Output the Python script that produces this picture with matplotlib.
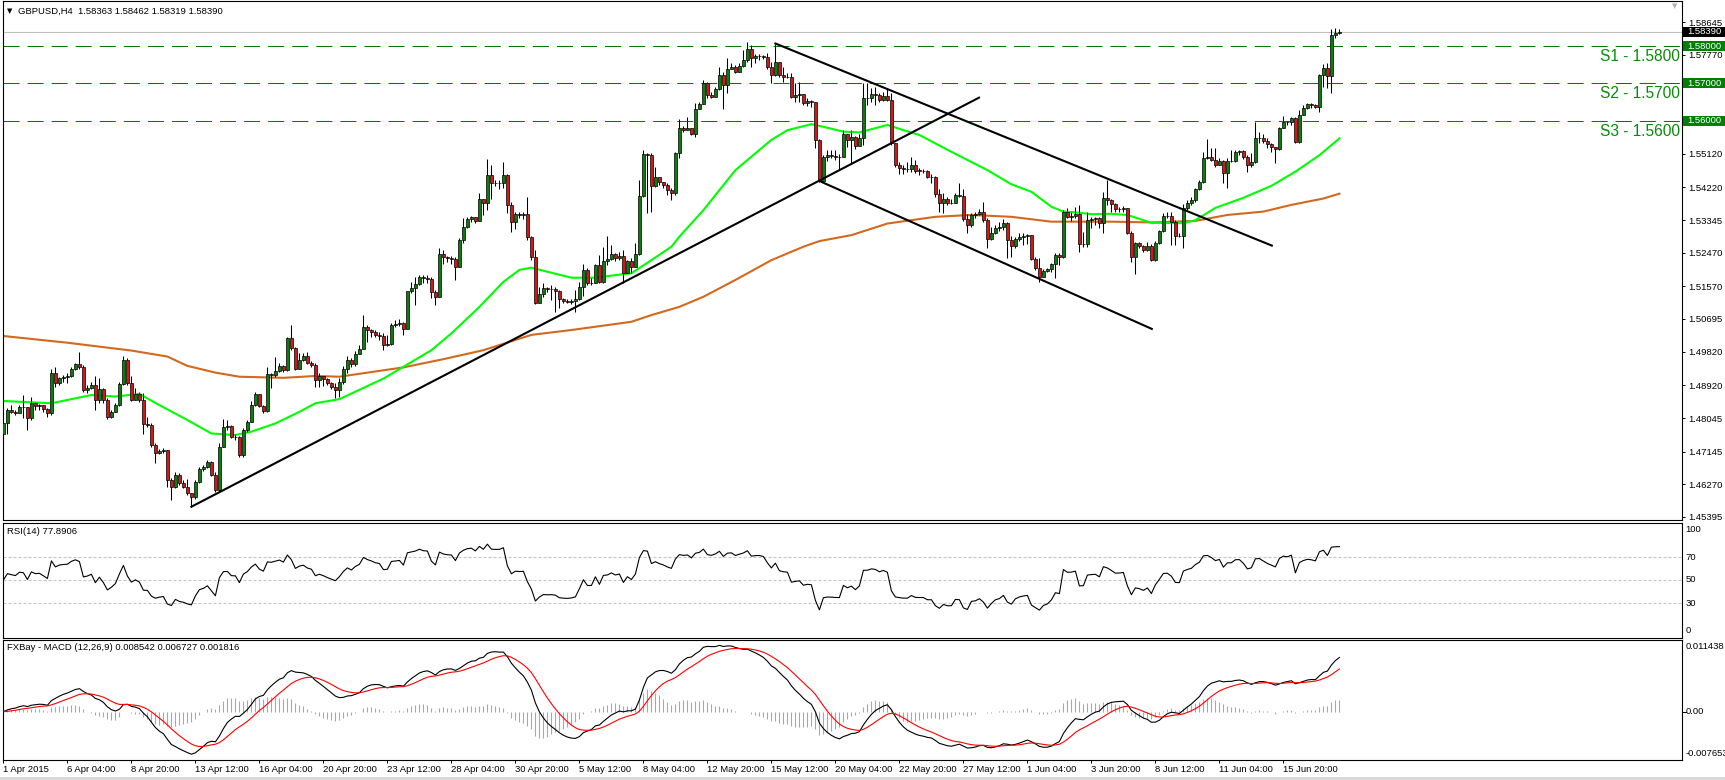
import numpy as np
import pandas as pd
import matplotlib
matplotlib.use('Agg')
import matplotlib.pyplot as plt
import matplotlib.transforms as mtransforms
from matplotlib.patches import Rectangle

W, H = 1725, 780

# GBPUSD H4, one value per bar
closes = [
    1.4790, 1.4826, 1.4821, 1.4817, 1.4835, 1.4833, 1.4804, 1.4844, 1.4836, 1.4838,
    1.4828, 1.4817, 1.4924, 1.4897, 1.4911, 1.4915, 1.4917, 1.4937, 1.4948, 1.4942,
    1.4879, 1.4884, 1.4893, 1.4853, 1.4881, 1.4853, 1.4808, 1.4821, 1.4839, 1.4895,
    1.4960, 1.4897, 1.4853, 1.4870, 1.4853, 1.4788, 1.4786, 1.4732, 1.4710, 1.4716,
    1.4719, 1.4639, 1.4621, 1.4652, 1.4630, 1.4621, 1.4603, 1.4592, 1.4634, 1.4667,
    1.4674, 1.4688, 1.4652, 1.4612, 1.4728, 1.4781, 1.4783, 1.4754, 1.4753, 1.4705,
    1.4772, 1.4795, 1.4839, 1.4869, 1.4837, 1.4824, 1.4921, 1.4919, 1.4931, 1.4944,
    1.4933, 1.5018, 1.4991, 1.4937, 1.4961, 1.4970, 1.4953, 1.4946, 1.4906, 1.4917,
    1.4908, 1.4897, 1.4888, 1.4879, 1.4902, 1.4935, 1.4960, 1.4950, 1.4975, 1.4990,
    1.5049, 1.5040, 1.5034, 1.5027, 1.5024, 1.5000, 1.5002, 1.5053, 1.5056, 1.5060,
    1.5044, 1.5144, 1.5153, 1.5163, 1.5183, 1.5178, 1.5177, 1.5143, 1.5129, 1.5243,
    1.5235, 1.5232, 1.5231, 1.5210, 1.5281, 1.5315, 1.5336, 1.5342, 1.5332, 1.5390,
    1.5379, 1.5455, 1.5434, 1.5433, 1.5434, 1.5454, 1.5375, 1.5330, 1.5350, 1.5348,
    1.5350, 1.5290, 1.5235, 1.5111, 1.5136, 1.5152, 1.5149, 1.5150, 1.5145, 1.5122,
    1.5118, 1.5116, 1.5118, 1.5122, 1.5156, 1.5201, 1.5167, 1.5167, 1.5214, 1.5169,
    1.5226, 1.5229, 1.5243, 1.5232, 1.5238, 1.5192, 1.5226, 1.5210, 1.5244, 1.5399,
    1.5511, 1.5508, 1.5426, 1.5450, 1.5437, 1.5428, 1.5415, 1.5406, 1.5513, 1.5580,
    1.5575, 1.5582, 1.5565, 1.5631, 1.5645, 1.5700, 1.5669, 1.5665, 1.5684, 1.5723,
    1.5696, 1.5740, 1.5745, 1.5732, 1.5747, 1.5763, 1.5791, 1.5767, 1.5773, 1.5774,
    1.5770, 1.5745, 1.5723, 1.5758, 1.5723, 1.5718, 1.5716, 1.5665, 1.5669, 1.5672,
    1.5649, 1.5653, 1.5651, 1.5549, 1.5440, 1.5504, 1.5508, 1.5507, 1.5504, 1.5503,
    1.5566, 1.5549, 1.5558, 1.5533, 1.5553, 1.5660, 1.5661, 1.5672, 1.5669, 1.5657,
    1.5666, 1.5657, 1.5540, 1.5482, 1.5475, 1.5470, 1.5470, 1.5482, 1.5467, 1.5466,
    1.5466, 1.5450, 1.5450, 1.5403, 1.5379, 1.5392, 1.5381, 1.5381, 1.5401, 1.5399,
    1.5336, 1.5321, 1.5348, 1.5350, 1.5357, 1.5334, 1.5283, 1.5299, 1.5312, 1.5316,
    1.5327, 1.5281, 1.5265, 1.5283, 1.5290, 1.5293, 1.5295, 1.5230, 1.5207, 1.5183,
    1.5198, 1.5203, 1.5216, 1.5241, 1.5236, 1.5357, 1.5343, 1.5344, 1.5350, 1.5269,
    1.5270, 1.5334, 1.5337, 1.5339, 1.5326, 1.5394, 1.5388, 1.5376, 1.5363, 1.5364,
    1.5367, 1.5299, 1.5236, 1.5272, 1.5266, 1.5254, 1.5266, 1.5227, 1.5272, 1.5305,
    1.5345, 1.5346, 1.5330, 1.5293, 1.5292, 1.5367, 1.5379, 1.5388, 1.5417, 1.5437,
    1.5500, 1.5504, 1.5495, 1.5482, 1.5492, 1.5459, 1.5492, 1.5493, 1.5517, 1.5518,
    1.5504, 1.5482, 1.5489, 1.5553, 1.5555, 1.5546, 1.5537, 1.5531, 1.5525, 1.5580,
    1.5598, 1.5596, 1.5608, 1.5542, 1.5616, 1.5633, 1.5644, 1.5642, 1.5638, 1.5723,
    1.5742, 1.5721, 1.5830, 1.58363, 1.58390,
]
highs = [
    1.4795, 1.4830, 1.4839, 1.4826, 1.4839, 1.4866, 1.4835, 1.4861, 1.4845, 1.4842,
    1.4839, 1.4830, 1.4937, 1.4942, 1.4915, 1.4920, 1.4924, 1.4942, 1.4953, 1.4980,
    1.4946, 1.4893, 1.4902, 1.4917, 1.4911, 1.4884, 1.4857, 1.4826, 1.4844, 1.4902,
    1.4970, 1.4964, 1.4917, 1.4884, 1.4875, 1.4872, 1.4808, 1.4790, 1.4737, 1.4721,
    1.4723, 1.4714, 1.4643, 1.4661, 1.4656, 1.4639, 1.4640, 1.4605, 1.4639, 1.4674,
    1.4679, 1.4692, 1.4690, 1.4661, 1.4737, 1.4801, 1.4799, 1.4786, 1.4763, 1.4756,
    1.4777, 1.4799, 1.4851, 1.4875, 1.4870, 1.4839, 1.4940, 1.4924, 1.4969, 1.4951,
    1.4946, 1.5022, 1.5053, 1.4994, 1.4978, 1.4978, 1.4982, 1.4958, 1.4951, 1.4924,
    1.4915, 1.4911, 1.4902, 1.4897, 1.4911, 1.4945, 1.4970, 1.4965, 1.4985, 1.5000,
    1.5080, 1.5053, 1.5044, 1.5040, 1.5036, 1.5031, 1.5027, 1.5058, 1.5067, 1.5069,
    1.5062, 1.5145, 1.5169, 1.5183, 1.5187, 1.5187, 1.5187, 1.5183, 1.5147, 1.5259,
    1.5254, 1.5238, 1.5238, 1.5236, 1.5285, 1.5339, 1.5343, 1.5345, 1.5343, 1.5406,
    1.5392, 1.5497, 1.5482, 1.5442, 1.5442, 1.5489, 1.5458, 1.5384, 1.5357, 1.5357,
    1.5356, 1.5395, 1.5292, 1.5254, 1.5156, 1.5165, 1.5156, 1.5160, 1.5156, 1.5147,
    1.5125, 1.5122, 1.5122, 1.5147, 1.5169, 1.5218, 1.5205, 1.5178, 1.5218, 1.5241,
    1.5263, 1.5292, 1.5268, 1.5245, 1.5250, 1.5254, 1.5227, 1.5232, 1.5272, 1.5442,
    1.5522, 1.5515, 1.5513, 1.5477, 1.5450, 1.5437, 1.5433, 1.5419, 1.5517, 1.5604,
    1.5586, 1.5611, 1.5580, 1.5647, 1.5651, 1.5709, 1.5705, 1.5678, 1.5691, 1.5745,
    1.5732, 1.5767, 1.5754, 1.5749, 1.5754, 1.5790, 1.5812, 1.5803, 1.5779, 1.5779,
    1.5776, 1.5781, 1.5758, 1.5806, 1.5758, 1.5743, 1.5729, 1.5727, 1.5700, 1.5705,
    1.5669, 1.5660, 1.5656, 1.5651, 1.5550, 1.5508, 1.5522, 1.5522, 1.5522, 1.5511,
    1.5575, 1.5566, 1.5575, 1.5559, 1.5566, 1.5700, 1.5700, 1.5687, 1.5691, 1.5674,
    1.5678, 1.5687, 1.5674, 1.5540, 1.5491, 1.5482, 1.5491, 1.5504, 1.5495, 1.5473,
    1.5470, 1.5468, 1.5458, 1.5452, 1.5417, 1.5406, 1.5397, 1.5392, 1.5406, 1.5434,
    1.5417, 1.5350, 1.5354, 1.5357, 1.5363, 1.5384, 1.5339, 1.5315, 1.5321, 1.5330,
    1.5336, 1.5330, 1.5292, 1.5290, 1.5300, 1.5299, 1.5298, 1.5294, 1.5236, 1.5234,
    1.5203, 1.5207, 1.5219, 1.5245, 1.5245, 1.5361, 1.5366, 1.5355, 1.5370, 1.5375,
    1.5303, 1.5355, 1.5343, 1.5343, 1.5343, 1.5410, 1.5441, 1.5392, 1.5379, 1.5370,
    1.5373, 1.5367, 1.5305, 1.5276, 1.5276, 1.5267, 1.5276, 1.5269, 1.5278, 1.5308,
    1.5352, 1.5355, 1.5355, 1.5334, 1.5299, 1.5376, 1.5388, 1.5397, 1.5421, 1.5442,
    1.5517, 1.5551, 1.5526, 1.5528, 1.5500, 1.5495, 1.5500, 1.5522, 1.5522, 1.5522,
    1.5522, 1.5508, 1.5513, 1.5598, 1.5571, 1.5566, 1.5553, 1.5540, 1.5531, 1.5584,
    1.5614, 1.5599, 1.5611, 1.5611, 1.5629, 1.5642, 1.5647, 1.5649, 1.5644, 1.5725,
    1.5751, 1.5754, 1.5846, 1.5848, 1.58462,
]
lows = [
    1.4741, 1.4763, 1.4817, 1.4812, 1.4817, 1.4804, 1.4772, 1.4799, 1.4826, 1.4826,
    1.4821, 1.4808, 1.4812, 1.4888, 1.4893, 1.4902, 1.4897, 1.4915, 1.4933, 1.4937,
    1.4875, 1.4872, 1.4881, 1.4826, 1.4845, 1.4844, 1.4801, 1.4804, 1.4821, 1.4837,
    1.4893, 1.4893, 1.4851, 1.4853, 1.4848, 1.4763, 1.4781, 1.4728, 1.4683, 1.4707,
    1.4710, 1.4621, 1.4585, 1.4616, 1.4625, 1.4616, 1.4598, 1.4567, 1.4589, 1.4630,
    1.4663, 1.4672, 1.4649, 1.4607, 1.4607, 1.4726, 1.4772, 1.4750, 1.4746, 1.4701,
    1.4699, 1.4768, 1.4795, 1.4837, 1.4833, 1.4819, 1.4821, 1.4884, 1.4915, 1.4928,
    1.4928, 1.4931, 1.4986, 1.4933, 1.4935, 1.4958, 1.4949, 1.4940, 1.4888, 1.4888,
    1.4890, 1.4893, 1.4881, 1.4857, 1.4862, 1.4895, 1.4925, 1.4940, 1.4945, 1.4975,
    1.4988, 1.5009, 1.5022, 1.5020, 1.5013, 1.4986, 1.4997, 1.5000, 1.5049, 1.5051,
    1.5027, 1.5044, 1.5140, 1.5107, 1.5161, 1.5165, 1.5165, 1.5127, 1.5107, 1.5129,
    1.5218, 1.5223, 1.5218, 1.5174, 1.5208, 1.5272, 1.5312, 1.5330, 1.5327, 1.5336,
    1.5348, 1.5361, 1.5392, 1.5425, 1.5417, 1.5419, 1.5352, 1.5303, 1.5310, 1.5339,
    1.5336, 1.5281, 1.5227, 1.5110, 1.5111, 1.5129, 1.5143, 1.5120, 1.5089, 1.5098,
    1.5111, 1.5111, 1.5110, 1.5089, 1.5120, 1.5131, 1.5160, 1.5160, 1.5165, 1.5165,
    1.5165, 1.5214, 1.5227, 1.5226, 1.5227, 1.5165, 1.5192, 1.5192, 1.5208, 1.5241,
    1.5397, 1.5352, 1.5357, 1.5424, 1.5428, 1.5419, 1.5401, 1.5388, 1.5401, 1.5500,
    1.5571, 1.5577, 1.5562, 1.5558, 1.5632, 1.5645, 1.5660, 1.5660, 1.5665, 1.5682,
    1.5631, 1.5674, 1.5738, 1.5729, 1.5732, 1.5745, 1.5758, 1.5743, 1.5756, 1.5763,
    1.5765, 1.5738, 1.5700, 1.5720, 1.5718, 1.5705, 1.5714, 1.5660, 1.5651, 1.5651,
    1.5642, 1.5640, 1.5638, 1.5526, 1.5437, 1.5464, 1.5493, 1.5500, 1.5495, 1.5470,
    1.5502, 1.5531, 1.5486, 1.5524, 1.5540, 1.5535, 1.5642, 1.5651, 1.5642, 1.5651,
    1.5654, 1.5653, 1.5535, 1.5477, 1.5458, 1.5458, 1.5464, 1.5464, 1.5461, 1.5455,
    1.5459, 1.5446, 1.5433, 1.5397, 1.5357, 1.5352, 1.5375, 1.5377, 1.5379, 1.5395,
    1.5333, 1.5299, 1.5317, 1.5341, 1.5348, 1.5330, 1.5259, 1.5281, 1.5297, 1.5306,
    1.5309, 1.5232, 1.5236, 1.5259, 1.5279, 1.5268, 1.5269, 1.5227, 1.5201, 1.5169,
    1.5183, 1.5196, 1.5196, 1.5178, 1.5214, 1.5234, 1.5339, 1.5332, 1.5339, 1.5248,
    1.5263, 1.5263, 1.5312, 1.5321, 1.5312, 1.5301, 1.5375, 1.5355, 1.5357, 1.5355,
    1.5355, 1.5296, 1.5223, 1.5189, 1.5259, 1.5250, 1.5251, 1.5225, 1.5225, 1.5269,
    1.5303, 1.5339, 1.5267, 1.5267, 1.5290, 1.5259, 1.5361, 1.5375, 1.5384, 1.5415,
    1.5433, 1.5498, 1.5492, 1.5477, 1.5486, 1.5433, 1.5419, 1.5491, 1.5491, 1.5508,
    1.5498, 1.5464, 1.5477, 1.5486, 1.5540, 1.5540, 1.5526, 1.5517, 1.5486, 1.5522,
    1.5580, 1.5589, 1.5589, 1.5540, 1.5540, 1.5616, 1.5632, 1.5633, 1.5633, 1.5623,
    1.5691, 1.5689, 1.5674, 1.5823, 1.58319,
]
first_open = 1.4763

# moving averages, read at a few bars each
ma_fast_idx = [0, 12, 22, 28, 34, 39, 46, 52, 58, 62, 68, 74, 78, 84, 95, 107, 112, 119, 125,
               129, 132, 136, 142, 148, 153, 157, 162, 167, 169, 175, 183, 192, 196, 202, 205,
               210, 214, 221, 225, 229, 237, 246, 252, 257, 262, 265, 268, 272, 277, 281, 287,
               295, 298, 303, 310, 317, 323, 329, 334]
ma_fast = [1.4850, 1.4844, 1.4866, 1.4862, 1.4869, 1.4839, 1.4799, 1.4763, 1.4759, 1.4768,
           1.4790, 1.4821, 1.4844, 1.4855, 1.4910, 1.4986, 1.5031, 1.5102, 1.5169, 1.5201,
           1.5207, 1.5196, 1.5180, 1.5180, 1.5187, 1.5192, 1.5227, 1.5263, 1.5290, 1.5361,
           1.5468, 1.5549, 1.5575, 1.5591, 1.5584, 1.5571, 1.5569, 1.5589, 1.5575, 1.5562,
           1.5517, 1.5468, 1.5430, 1.5410, 1.5370, 1.5357, 1.5355, 1.5350, 1.5351, 1.5348,
           1.5327, 1.5326, 1.5334, 1.5367, 1.5394, 1.5426, 1.5464, 1.5508, 1.5553]
ma_slow_idx = [0, 16, 32, 41, 46, 53, 59, 70, 78, 84, 100, 110, 120, 132, 142, 157, 162, 169,
               175, 183, 192, 200, 204, 212, 221, 227, 233, 242, 252, 262, 277, 287, 298, 306,
               315, 322, 330, 334]
ma_slow = [1.5024, 1.5006, 1.4985, 1.4969, 1.4944, 1.4926, 1.4915, 1.4912, 1.4917, 1.4915,
           1.4940, 1.4962, 1.4986, 1.5027, 1.5040, 1.5062, 1.5080, 1.5102, 1.5129, 1.5174,
           1.5227, 1.5263, 1.5278, 1.5294, 1.5325, 1.5334, 1.5343, 1.5348, 1.5343, 1.5330,
           1.5330, 1.5328, 1.5332, 1.5348, 1.5357, 1.5375, 1.5392, 1.5405]

# hand drawn trend lines (bar, price)
trend_up_x, trend_up_y = [47, 243.9], [1.4567, 1.5662]
chan_top_x, chan_top_y = [193, 317.1], [1.5807, 1.5266]
chan_bot_x, chan_bot_y = [204, 287.1], [1.5439, 1.5043]

support_levels = [1.5800, 1.5700, 1.5600]
support_names = ['S1', 'S2', 'S3']
bid = 1.58390

price_ticks = [1.58645, 1.57770, 1.56895, 1.56020, 1.55120, 1.54220, 1.53345, 1.52470,
               1.51570, 1.50695, 1.49820, 1.48920, 1.48045, 1.47145, 1.46270, 1.45395]
time_labels = ['1 Apr 2015', '6 Apr 04:00', '8 Apr 20:00', '13 Apr 12:00', '16 Apr 04:00',
               '20 Apr 20:00', '23 Apr 12:00', '28 Apr 04:00', '30 Apr 20:00', '5 May 12:00',
               '8 May 04:00', '12 May 20:00', '15 May 12:00', '20 May 04:00', '22 May 20:00',
               '27 May 12:00', '1 Jun 04:00', '3 Jun 20:00', '8 Jun 12:00', '11 Jun 04:00',
               '15 Jun 20:00']
bars_per_label = 16
rsi_period = 14
rsi_levels = [30, 50, 70]
macd_max, macd_min = 0.011438, -0.007653

BULL = '#0c7c0c'
BEAR = '#d01818'
SGREEN = '#0a8a0a'
FS = 6.8
plt.rcParams['font.family'] = ['Liberation Sans', 'DejaVu Sans']

c = np.array(closes)
o = np.r_[first_open, c[:-1]]
hi = np.maximum(np.array(highs), np.maximum(o, c))
lo = np.minimum(np.array(lows), np.minimum(o, c))
n = len(c)
x = np.arange(n)

# RSI (Wilder), seeded neutral since bars before the window are not on the chart
d = np.diff(c, prepend=c[0])
gains, losses = np.clip(d, 0, None), np.clip(-d, 0, None)
ag = al = np.abs(d[1:rsi_period + 1]).mean() / 2
rsi = []
for i in range(n):
    if i > 0:
        ag = (ag * (rsi_period - 1) + gains[i]) / rsi_period
        al = (al * (rsi_period - 1) + losses[i]) / rsi_period
    rsi.append(100 - 100 / (1 + ag / al))

s = pd.Series(c)
macd = s.ewm(span=12, adjust=False).mean() - s.ewm(span=26, adjust=False).mean()
signal = macd.ewm(span=9, adjust=False).mean()
hist = macd - signal

fig = plt.figure(figsize=(W / 100, H / 100), dpi=100)
X0, X1 = 2.5, 1682.0


def panel(y0, y1):
    ax = fig.add_axes([X0 / W, 1 - y1 / H, (X1 - X0) / W, (y1 - y0) / H])
    ax.set_xlim((X0 - 3.4) / 4, (X1 - 3.4) / 4)
    for sp in ax.spines.values():
        sp.set_linewidth(0.8)
        sp.set_color('black')
    ax.tick_params(axis='x', bottom=False, labelbottom=False)
    return ax


# main price panel
ax = panel(0.5, 519.5)
k = (price_ticks[0] - price_ticks[-1]) / (517 - 22)
ax.set_ylim(price_ticks[0] - (519.5 - 22) * k, price_ticks[0] + (22 - 0.5) * k)
ax.yaxis.tick_right()
ax.set_yticks(price_ticks)
# labels that sit under the level boxes are not shown
boxed = support_levels + [bid]
ax.set_yticklabels(['' if min(abs(t - b) for b in boxed) < 6 * k else '%.5f' % t
                    for t in price_ticks])
ax.tick_params(axis='y', length=2.2, width=0.7, pad=2, labelsize=FS)

ax.axhline(bid, color='#c0c0c0', lw=0.8, zorder=1)
for lvl in support_levels:
    ax.axhline(lvl, color='#007a00', lw=0.75, dashes=(15.4, 7.7), zorder=1)

ax.plot(ma_slow_idx, ma_slow, color='#d2691e', lw=1.5, zorder=2)
ax.plot(ma_fast_idx, ma_fast, color='#00ff00', lw=1.5, zorder=2)

up = c >= o
ax.vlines(x, lo, hi, color='black', lw=0.75, zorder=3)
ax.bar(x[up], c[up] - o[up], bottom=o[up], width=0.75, color=BULL,
       edgecolor='black', linewidth=0.5, zorder=4)
ax.bar(x[~up], o[~up] - c[~up], bottom=c[~up], width=0.75, color=BEAR,
       edgecolor='black', linewidth=0.5, zorder=4)

for lx, ly in [(trend_up_x, trend_up_y), (chan_top_x, chan_top_y), (chan_bot_x, chan_bot_y)]:
    ax.plot(lx, ly, color='black', lw=1.5, zorder=5)

yx = mtransforms.blended_transform_factory(ax.transAxes, ax.transData)
box_w = 43 / (X1 - X0)
for name, lvl in zip(support_names, support_levels):
    ax.text(0.9988, lvl - 3 * k, '%s - %.4f' % (name, lvl), transform=yx, ha='right', va='top',
            fontsize=11.2, color=SGREEN, zorder=6)
    ax.add_patch(Rectangle((1.0006, lvl - 5 * k), box_w, 10 * k, transform=yx,
                           facecolor='#008000', edgecolor='none', clip_on=False, zorder=6))
    ax.text(1.003, lvl, '%.5f' % lvl, transform=yx, ha='left', va='center', fontsize=FS,
            color='white', clip_on=False, zorder=7)
ax.add_patch(Rectangle((1.0006, bid - 5 * k), box_w, 10 * k, transform=yx,
                       facecolor='black', edgecolor='none', clip_on=False, zorder=6))
ax.text(1.003, bid, '%.5f' % bid, transform=yx, ha='left', va='center', fontsize=FS,
        color='white', clip_on=False, zorder=7)

# RSI panel
ax_rsi = panel(522.5, 637.5)
ax_rsi.set_ylim(0, 100)
ax_rsi.set_yticks([])
for lvl in rsi_levels:
    ax_rsi.axhline(lvl, color='#c4c4c4', lw=0.75, dashes=(2.9, 1.9))
ax_rsi.plot(x, rsi, color='black', lw=0.8)
ry = mtransforms.blended_transform_factory(ax_rsi.transAxes, ax_rsi.transData)
for txt, yv in [('100', 94.3), ('70', 70), ('50', 50), ('30', 30), ('0', 6.5)]:
    ax_rsi.text(1.002, yv, txt, transform=ry, ha='left', va='center', fontsize=FS, clip_on=False)

# MACD panel
ax_m = panel(639.5, 760)
ax_m.set_ylim(macd_min, macd_max)
ax_m.set_yticks([])
ax_m.vlines(x, 0, hist, color='#a8a8a8', lw=0.8)
ax_m.plot(x, macd, color='black', lw=0.8)
ax_m.plot(x, signal, color='#ff0000', lw=0.8)
my = mtransforms.blended_transform_factory(ax_m.transAxes, ax_m.transData)
mk = (macd_max - macd_min) / (760 - 639.5)
for txt, yv in [('%.6f' % macd_max, macd_max - 7 * mk), ('0.00', 0.0),
                ('%.6f' % macd_min, macd_min + 7 * mk)]:
    ax_m.text(1.002, yv, txt, transform=my, ha='left', va='center', fontsize=FS, clip_on=False)
ax_m.plot([1.0, 1.0025], [0, 0], transform=my, color='black', lw=0.7, clip_on=False)

ax_m.tick_params(axis='x', bottom=True, labelbottom=True, length=2.2, width=0.7,
                 pad=1.5, labelsize=FS)
ax_m.set_xticks(np.arange(len(time_labels)) * bars_per_label)
ax_m.set_xticklabels(time_labels, ha='left')

# header texts
fig.text(10 / W, 1 - 11 / H, '\u25bc', fontsize=5, family='DejaVu Sans', va='center', ha='center')
fig.text(18 / W, 1 - 11 / H, 'GBPUSD,H4  1.58363 1.58462 1.58319 1.58390', fontsize=FS,
         va='center', ha='left')
fig.text(7 / W, 1 - 532 / H, 'RSI(14) 77.8906', fontsize=FS, va='center', ha='left')
fig.text(7 / W, 1 - 648 / H, 'FXBay - MACD (12,26,9) 0.008542 0.006727 0.001816', fontsize=FS,
         va='center', ha='left')
fig.text(1675 / W, 1 - 6 / H, '\u25bc', fontsize=5, family='DejaVu Sans', color='#b0b0b0',
         va='center', ha='center')
fig.patches.append(Rectangle((0, 0), 1, 3 / H, transform=fig.transFigure,
                             facecolor='#d8d8d8', edgecolor='none'))

fig.savefig('out.png', dpi=100)
